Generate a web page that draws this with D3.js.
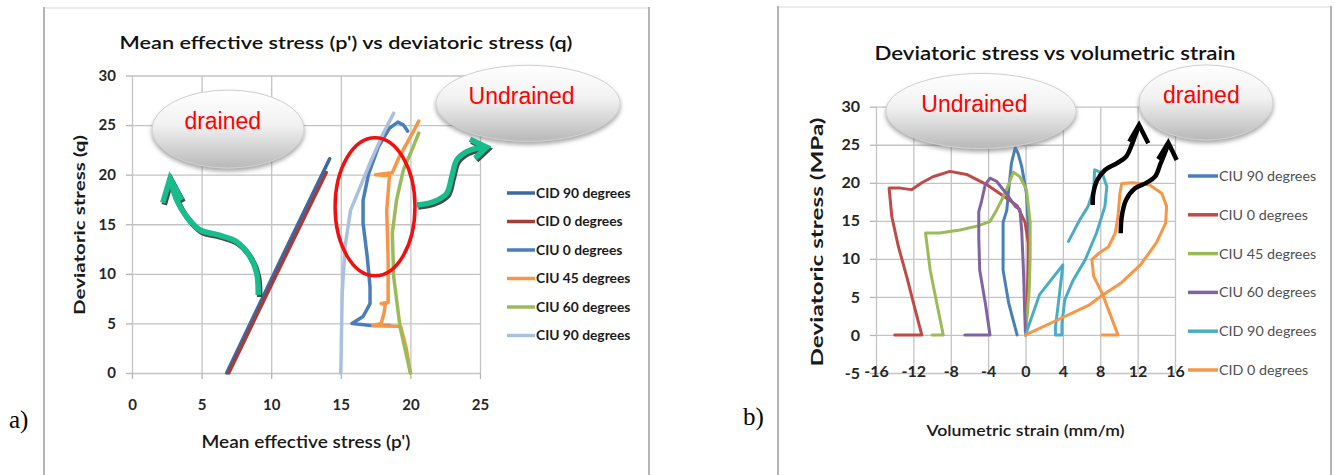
<!DOCTYPE html>
<html>
<head>
<meta charset="utf-8">
<title>Stress paths</title>
<script src="https://cdn.jsdelivr.net/npm/d3@7/dist/d3.min.js"></script>
<style>
    body { margin: 0; background: #fff; }
    svg text { font-family: Lato, "Liberation Sans", sans-serif; }
    .grid line { stroke: #c3c3c3; stroke-width: 1.3px; }
    .grid path, .axis path { display: none; }
    .axis line { stroke: #b5b5b5; stroke-width: 1.3px; }
    .series { fill: none; stroke-linejoin: round; stroke-linecap: round; }
</style>
</head>
<body>
<svg id="figure" width="1334" height="475"></svg>
<script>

// ---------- a) mean effective stress p' vs deviatoric stress q ----------
const pqTitle = "Mean effective stress (p') vs deviatoric stress (q)";
const pqXTitle = "Mean effective stress (p')";
const pqYTitle = "Deviatoric stress (q)";
const pqXTicks = [0, 5, 10, 15, 20, 25];
const pqYTicks = [0, 5, 10, 15, 20, 25, 30];
const pqNames = ["CID 90 degrees", "CID 0 degrees", "CIU 0 degrees", "CIU 45 degrees", "CIU 60 degrees", "CIU 90 degrees"];
const pqColors = ["#3c68a4", "#a33d3a", "#4a7ebb", "#f79646", "#9bbb59", "#a9c0df"];

// [p', q]
const pqCid90 = [[6.8, 0], [10.5, 10.9], [14.2, 21.6]];
const pqCid0 = [[6.95, 0], [10.4, 10.0], [13.95, 20.2]];
const pqCiu0 = [[18.5, 4.8], [17.2, 4.8], [15.8, 5.0], [16.6, 5.7], [17.1, 7.0], [17.1, 8.7], [16.9, 11.7],
    [16.6, 15.1], [16.6, 17.4], [17.0, 20.1], [17.7, 22.8], [18.5, 24.7], [19.1, 25.3], [19.5, 25.0], [19.8, 24.4]];
const pqCiu45 = [[20, 0], [19.7, 2.5], [19.3, 4.7], [17.3, 4.8], [17.9, 5.0], [18.1, 6.0], [18.2, 6.9], [17.9, 7.0],
    [18.4, 7.1], [18.4, 11.4], [18.3, 16.4], [18.5, 19.9], [17.5, 20.0], [18.7, 20.2], [19.2, 21.8], [19.8, 23.3],
    [20.3, 24.6], [20.6, 25.4]];
const pqCiu60 = [[20, 0], [19.6, 2.5], [19.25, 4.7], [18.8, 9.7], [18.7, 14.1], [19.0, 17.4], [19.5, 20.5],
    [20.2, 22.8], [20.6, 24.2]];
const pqCiu90 = [[15.0, 0], [15.05, 4], [15.1, 8], [15.3, 12.7], [15.7, 16.4], [16.4, 18.8], [17.2, 21.5],
    [18.1, 24.3], [18.8, 26.2]];

// notes drawn on top of chart a (data units)
const pqCallouts = [
    {text: "drained", x: 6.9, y: 24.6, rx: 5.46, ry: 3.93},
    {text: "Undrained", x: 28.45, y: 27.2, rx: 6.61, ry: 3.83}
];
const pqRing = {x: 17.46, y: 16.77, rx: 2.87, ry: 6.96};
const pqArrowBodies = [
    [[9.07, 7.87], [8.96, 10.05], [8.48, 11.73], [7.52, 13.24], [6.2, 13.92], [4.89, 14.42], [3.93, 15.76], [3.21, 17.44], [2.85, 18.96], [2.73, 19.5]],
    [[20.45, 16.94], [21.65, 17.27], [22.61, 18.12], [22.97, 19.79], [23.33, 21.48], [24.04, 22.32], [24.76, 22.66], [25.4, 22.74]]
];
const pqArrowHeads = [
    [[2.21, 17.17], [2.73, 19.63], [3.57, 17.44]],
    [[24.28, 23.57], [25.48, 22.76], [24.64, 21.65]]
];

// ---------- b) deviatoric stress vs volumetric strain ----------
const evTitle = "Deviatoric stress vs volumetric strain";
const evXTitle = "Volumetric strain (mm/m)";
const evYTitle = "Deviatoric stress (MPa)";
const evXTicks = [-16, -12, -8, -4, 0, 4, 8, 12, 16];
const evYTicks = [-5, 0, 5, 10, 15, 20, 25, 30];
const evNames = ["CIU 90 degrees", "CIU 0 degrees", "CIU 45 degrees", "CIU 60 degrees", "CID 90 degrees", "CID 0 degrees"];
const evColors = ["#4a7ebb", "#be4b48", "#9bbb59", "#8064a2", "#4bacc6", "#f79646"];

// [volumetric strain, q]
const evCiu90 = [[0, 0], [0.3, 6], [0.4, 12], [0.1, 18.6], [-0.4, 22.1], [-0.8, 23.9], [-1.1, 24.6], [-1.5, 22.6],
    [-1.8, 19.1], [-2.0, 16.4], [-2.4, 14.8], [-2.4, 8.5], [-1.8, 4.2], [-0.9, 0]];
const evCiu0 = [[0, 0], [0.2, 5], [0.3, 10], [0.3, 12.1], [-0.05, 14.8], [-0.9, 17.0], [-2.4, 18.3], [-4.2, 19.8],
    [-6.3, 21.1], [-8.1, 21.5], [-9.9, 20.8], [-11.1, 20.0], [-12.2, 19.1], [-13.4, 19.3], [-14.6, 19.3],
    [-14.3, 15.5], [-13.6, 11.6], [-12.7, 7.6], [-11.8, 3.3], [-11.1, 0], [-14.0, 0]];
const evCiu45 = [[0, 0], [0.4, 5.9], [0.5, 10.3], [0.5, 14.8], [0.1, 19.1], [-0.6, 20.8], [-1.3, 21.4], [-1.8, 19.8],
    [-2.4, 18.1], [-3.1, 16.4], [-3.8, 14.9], [-5.2, 14.3], [-7.0, 13.8], [-9.2, 13.4], [-10.7, 13.4], [-10.2, 8.5],
    [-9.5, 4.2], [-8.8, 0], [-10.0, 0]];
const evCiu60 = [[0, 0], [-0.1, 3.5], [-0.2, 7.9], [-0.4, 13.6], [-0.6, 16.5], [-1.1, 16.9], [-2.0, 18.5], [-3.1, 20.2],
    [-3.8, 20.6], [-4.3, 19.8], [-4.7, 17.6], [-5.0, 16.2], [-5.0, 12.7], [-4.9, 8.5], [-4.3, 4.2], [-3.8, 0], [-6.5, 0]];
const evCid90 = [[0, 0], [1.5, 5.3], [4.0, 9.2], [3.6, 5.0], [3.2, 1.0], [3.2, 0], [3.9, 0], [3.9, 1.5], [4.2, 4.6],
    [5.1, 7.2], [6.4, 9.9], [7.6, 13.4], [8.5, 16.9], [8.7, 19.5], [8.2, 21.3], [7.4, 21.7], [7.3, 19.1], [6.7, 16.9],
    [5.8, 15.1], [4.6, 12.3]];
const evCid0 = [[0, 0], [3.3, 1.9], [6.9, 4.0], [8.2, 5.2], [10.3, 6.9], [12.3, 9.2], [14.0, 12.1], [15.0, 14.7],
    [15.1, 16.9], [14.6, 18.6], [13.3, 19.7], [11.5, 20.0], [10.3, 19.9], [10.1, 18.6], [9.9, 15.6], [9.6, 13.4],
    [8.9, 11.6], [7.8, 10.7], [7.1, 9.9], [7.3, 7.7], [8.2, 5.5], [9.0, 2.9], [9.9, 0], [8.2, 0]];

const evCallouts = [
    {text: "Undrained", x: -4.76, y: 29.44, rx: 10.17, ry: 4.93},
    {text: "drained", x: 19.32, y: 30.56, rx: 7.17, ry: 4.93}
];
const evArrowBodies = [
    [[7.19, 17.09], [7.26, 18.62], [7.68, 20.37], [8.51, 21.68], [9.76, 22.56], [10.76, 23.43], [11.37, 24.97], [11.9, 26.72], [12.1, 27.4]],
    [[10.19, 13.37], [10.3, 15.55], [10.76, 17.74], [11.72, 19.28], [12.97, 20.02], [13.86, 20.8], [14.47, 22.57], [15.04, 24.31], [15.25, 25.1]]
];
const evArrowHeads = [
    [[11.11, 25.4], [12.15, 27.6], [13.14, 25.19]],
    [[14.21, 23.09], [15.28, 25.27], [16.18, 23.0]]
];


class StressVis {

    constructor(svg, config) {
        this.svg = svg;
        this.config = config;
        this.initVis();
    }

    initVis() {
        let vis = this;
        let c = vis.config;

        vis.g = vis.svg.append("g");

        // panel frame
        vis.g.append("path")
            .attr("d", `M${c.frame[0]},475 V${c.frame[1]} H${c.frame[2]} V475`)
            .attr("fill", "none")
            .attr("stroke", "#b4b4b4")
            .attr("stroke-width", 2);
        vis.g.append("line")
            .attr("x1", c.frame[0] + 1).attr("x2", c.frame[2] - 1)
            .attr("y1", c.frame[1]).attr("y2", c.frame[1])
            .attr("stroke", "#ececec").attr("stroke-width", 2);

        vis.x = d3.scaleLinear().domain(c.xDomain).range(c.xRange);
        vis.y = d3.scaleLinear().domain(c.yDomain).range(c.yRange);

        let w = c.xRange[1] - c.xRange[0];
        let h = c.yRange[0] - c.yRange[1];

        // grid
        vis.g.append("g")
            .attr("class", "grid")
            .attr("transform", "translate(" + c.xRange[0] + ",0)")
            .call(d3.axisLeft(vis.y).tickValues(c.yTicks).tickSize(-w).tickFormat(""));
        vis.g.append("g")
            .attr("class", "grid")
            .attr("transform", "translate(0," + c.yRange[0] + ")")
            .call(d3.axisBottom(vis.x).tickValues(c.xTicks).tickSize(-h).tickFormat(""));

        // axes with labels (plain hyphen for negatives, as in the source)
        let fmt = d => String(d);
        vis.yAxis = vis.g.append("g")
            .attr("class", "axis")
            .attr("transform", "translate(" + c.xRange[0] + ",0)")
            .call(d3.axisLeft(vis.y).tickValues(c.yTicks).tickSize(6).tickPadding(c.yPad).tickFormat(fmt));
        vis.xAxis = vis.g.append("g")
            .attr("class", "axis")
            .attr("transform", "translate(0," + c.yRange[0] + ")")
            .call(d3.axisBottom(vis.x).tickValues(c.xTicks).tickSize(c.xTickSize).tickPadding(c.xPad).tickFormat(fmt));

        vis.g.selectAll(".axis text")
            .attr("fill", "#262626")
            .style("font-size", c.tickFont + "px")
            .style("font-weight", "bold");

        // titles
        vis.g.append("text")
            .attr("x", c.title.x).attr("y", c.title.y)
            .attr("text-anchor", "middle")
            .attr("textLength", c.title.len).attr("lengthAdjust", "spacingAndGlyphs")
            .style("font-size", c.title.size + "px")
            .style("font-weight", 600)
            .attr("fill", "#111")
            .text(c.title.text);
        vis.g.append("text")
            .attr("x", c.xTitle.x).attr("y", c.xTitle.y)
            .attr("text-anchor", "middle")
            .attr("textLength", c.xTitle.len).attr("lengthAdjust", "spacingAndGlyphs")
            .style("font-size", c.xTitle.size + "px")
            .style("font-weight", 600)
            .attr("fill", "#1a1a1a")
            .text(c.xTitle.text);
        vis.g.append("text")
            .attr("transform", "translate(" + c.yTitle.x + "," + c.yTitle.y + ") rotate(-90)")
            .attr("text-anchor", "middle")
            .attr("textLength", c.yTitle.len).attr("lengthAdjust", "spacingAndGlyphs")
            .style("font-size", c.yTitle.size + "px")
            .style("font-weight", "bold")
            .attr("fill", "#1a1a1a")
            .text(c.yTitle.text);

        // panel letter
        vis.g.append("text")
            .attr("x", c.letter.x).attr("y", c.letter.y)
            .style("font-family", "'Liberation Serif', 'Times New Roman', serif")
            .style("font-size", "25px")
            .attr("fill", "#000")
            .text(c.letter.text);

        vis.line = d3.line()
            .x(d => vis.x(d[0]))
            .y(d => vis.y(d[1]));

        vis.drawSeries();
        vis.drawLegend();
        vis.drawNotes();
    }

    drawSeries() {
        let vis = this;
        let c = vis.config;

        vis.g.append("g")
            .selectAll("path")
            .data(c.series)
            .enter()
            .append("path")
            .attr("class", "series")
            .attr("d", vis.line)
            .attr("stroke", (d, i) => c.colors[i])
            .attr("stroke-width", c.lineWidth);
    }

    drawLegend() {
        let vis = this;
        let c = vis.config;
        let lg = c.legend;

        let item = vis.g.append("g")
            .selectAll("g")
            .data(c.names)
            .enter()
            .append("g")
            .attr("transform", (d, i) => "translate(" + lg.x + "," + (lg.y + i * lg.step) + ")");

        item.append("line")
            .attr("x1", 0).attr("x2", lg.lineLen)
            .attr("stroke", (d, i) => c.colors[i])
            .attr("stroke-width", 3.5);

        item.append("text")
            .attr("x", lg.lineLen + 1)
            .attr("dy", "0.35em")
            .style("font-size", lg.size + "px")
            .style("font-weight", lg.weight)
            .attr("fill", lg.color)
            .text(d => d);
    }

    drawNotes() {
        let vis = this;
        let c = vis.config;
        let kx = Math.abs(vis.x(1) - vis.x(0));
        let ky = Math.abs(vis.y(1) - vis.y(0));

        if (c.ring) {
            vis.g.append("ellipse")
                .attr("cx", vis.x(c.ring.x)).attr("cy", vis.y(c.ring.y))
                .attr("rx", c.ring.rx * kx).attr("ry", c.ring.ry * ky)
                .attr("fill", "none")
                .attr("stroke", "#f01010")
                .attr("stroke-width", 3.5);
        }

        // curved arrows
        let curve = d3.line()
            .x(d => vis.x(d[0]))
            .y(d => vis.y(d[1]))
            .curve(d3.curveCatmullRom.alpha(0.5));
        let head = d3.line()
            .x(d => vis.x(d[0]))
            .y(d => vis.y(d[1]));

        if (c.arrowShadow) {
            let sh = vis.g.append("g").attr("transform", "translate(1.5,2)");
            c.arrowBodies.forEach((b, i) => {
                sh.append("path").attr("d", curve(b)).attr("fill", "none")
                    .attr("stroke", c.arrowShadow).attr("stroke-width", c.arrowWidth);
                sh.append("path").attr("d", head(c.arrowHeads[i])).attr("fill", "none")
                    .attr("stroke", c.arrowShadow).attr("stroke-width", c.arrowWidth);
            });
        }
        c.arrowBodies.forEach((b, i) => {
            vis.g.append("path").attr("d", curve(b)).attr("fill", "none")
                .attr("stroke", c.arrowColor).attr("stroke-width", c.arrowWidth);
            vis.g.append("path").attr("d", head(c.arrowHeads[i])).attr("fill", "none")
                .attr("stroke", c.arrowColor).attr("stroke-width", c.arrowWidth)
                .attr("stroke-linejoin", "miter");
        });

        // glossy callout ovals
        let note = vis.g.append("g")
            .selectAll("g")
            .data(c.callouts)
            .enter()
            .append("g")
            .attr("transform", d => "translate(" + vis.x(d.x) + "," + vis.y(d.y) + ")");

        note.append("ellipse")
            .attr("rx", d => d.rx * kx)
            .attr("ry", d => d.ry * ky)
            .attr("fill", "url(#ovalGrad)")
            .attr("stroke", "#d0d0d0")
            .attr("stroke-width", 1)
            .attr("filter", "url(#ovalShadow)");

        note.append("text")
            .attr("x", d => -0.07 * d.rx * kx)
            .attr("y", d => -0.2 * d.ry * ky)
            .attr("dy", "0.35em")
            .attr("text-anchor", "middle")
            .style("font-family", "'Liberation Sans', Arial, sans-serif")
            .style("font-size", "23px")
            .attr("fill", "#ff0000")
            .text(d => d.text);
    }
}

let svg = d3.select("#figure");

// shared defs
let defs = svg.append("defs");
let grad = defs.append("linearGradient")
    .attr("id", "ovalGrad")
    .attr("x1", "0%").attr("y1", "0%")
    .attr("x2", "0%").attr("y2", "100%");
grad.append("stop").attr("offset", "0%").attr("stop-color", "#ffffff");
grad.append("stop").attr("offset", "45%").attr("stop-color", "#f1f1f1");
grad.append("stop").attr("offset", "100%").attr("stop-color", "#b8b8b8");
defs.append("filter")
    .attr("id", "ovalShadow")
    .attr("x", "-20%").attr("y", "-20%").attr("width", "140%").attr("height", "150%")
    .append("feDropShadow")
    .attr("dx", 0).attr("dy", 3).attr("stdDeviation", 2)
    .attr("flood-color", "#6e6e6e").attr("flood-opacity", 0.6);

new StressVis(svg, {
    frame: [44, 8, 649],
    xDomain: [0, 25], xRange: [132, 480],
    yDomain: [0, 30], yRange: [373, 75.5],
    xTicks: pqXTicks, yTicks: pqYTicks,
    xTickSize: 6, xPad: 20, yPad: 10, tickFont: 15,
    title: {text: pqTitle, x: 346, y: 49, len: 453, size: 18},
    xTitle: {text: pqXTitle, x: 306, y: 448, len: 209, size: 17},
    yTitle: {text: pqYTitle, x: 85, y: 225, len: 180, size: 16},
    letter: {text: "a)", x: 9, y: 428},
    series: [pqCid90, pqCid0, pqCiu0, pqCiu45, pqCiu60, pqCiu90],
    names: pqNames, colors: pqColors, lineWidth: 3.5,
    legend: {x: 507, y: 193, step: 28.5, lineLen: 28, size: 13.8, weight: "bold", color: "#1a1a1a"},
    callouts: pqCallouts, ring: pqRing,
    arrowBodies: pqArrowBodies, arrowHeads: pqArrowHeads,
    arrowColor: "#17bd8c", arrowShadow: "#4a4a4a", arrowWidth: 5.5
});

new StressVis(svg, {
    frame: [778, 7, 1331],
    xDomain: [-16, 16], xRange: [876, 1175],
    yDomain: [-5, 30], yRange: [373, 106.7],
    xTicks: evXTicks, yTicks: evYTicks,
    xTickSize: 0, xPad: -7, yPad: 10, tickFont: 16,
    title: {text: evTitle, x: 1055, y: 60, len: 361, size: 20},
    xTitle: {text: evXTitle, x: 1025.5, y: 436, len: 198, size: 16},
    yTitle: {text: evYTitle, x: 823, y: 242, len: 249, size: 17},
    letter: {text: "b)", x: 743, y: 425},
    series: [evCiu90, evCiu0, evCiu45, evCiu60, evCid90, evCid0],
    names: evNames, colors: evColors, lineWidth: 3,
    legend: {x: 1188, y: 176, step: 38.8, lineLen: 30, size: 14.3, weight: "normal", color: "#505050"},
    callouts: evCallouts, ring: null,
    arrowBodies: evArrowBodies, arrowHeads: evArrowHeads,
    arrowColor: "#000", arrowShadow: null, arrowWidth: 4.5
});

</script>
</body>
</html>
